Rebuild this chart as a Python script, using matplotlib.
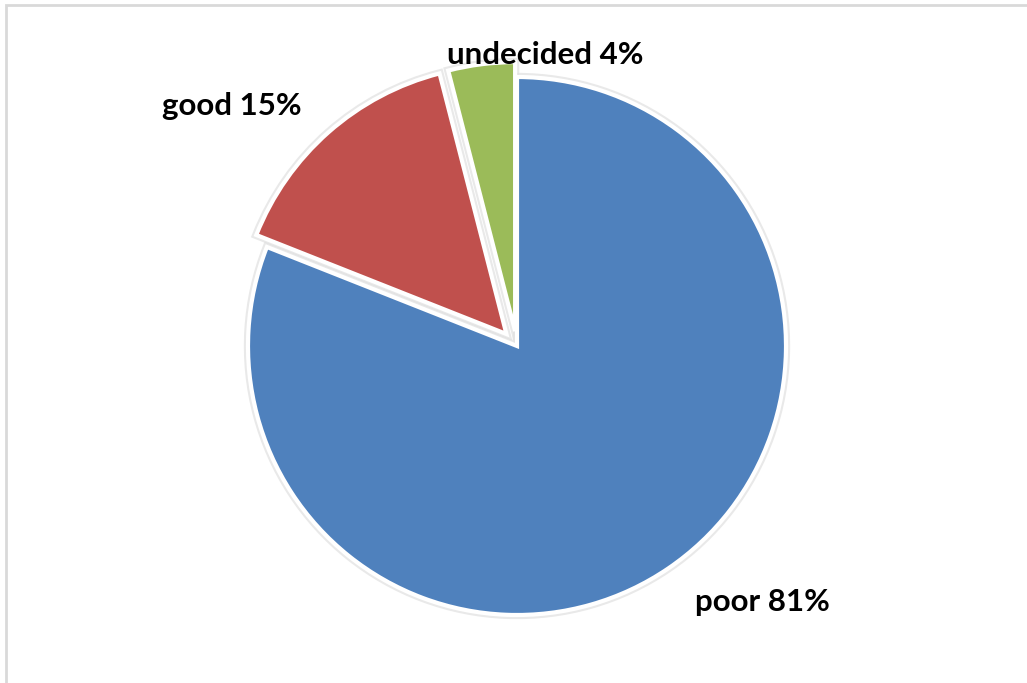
import matplotlib
matplotlib.use('Agg')
import matplotlib.pyplot as plt
from matplotlib.patches import Rectangle

labels = ['poor', 'good', 'undecided']
shares = [81, 15, 4]
colors = ['#4F81BD', '#C0504D', '#9BBB59']
explode = [0, 16, 15]  # pixels pulled out

fig = plt.figure(figsize=(10.27, 6.83), dpi=100)
ax = fig.add_axes([0, 0, 1, 1])
ax.set_xlim(0, 1027)
ax.set_ylim(0, 683)
ax.axis('off')

# outer frame of the chart area
fig.patches.append(Rectangle((6 / 1027, -0.1), 1.2, (683 - 5.5) / 683 + 0.1,
                             transform=fig.transFigure, fill=False,
                             edgecolor='#d9d9d9', linewidth=2))

center = (517, 683 - 346)
radius = 269

# soft gray halo under the white slice borders
ax.pie(shares, colors=colors, explode=explode, startangle=90, counterclock=False,
       center=center, radius=radius,
       wedgeprops=dict(edgecolor='#e0e0e0', linewidth=6, alpha=0.7))
ax.pie(shares, colors=colors, explode=explode, startangle=90, counterclock=False,
       center=center, radius=radius,
       wedgeprops=dict(edgecolor='white', linewidth=3))
ax.set_xlim(0, 1027)
ax.set_ylim(0, 683)

font = dict(fontsize=22.5, fontweight='bold', family=['Lato', 'DejaVu Sans'],
            color='black', ha='center', va='center')
pos = {'poor': (762, 683 - 602), 'good': (232, 683 - 106), 'undecided': (545, 683 - 55)}
for lab, s in zip(labels, shares):
    ax.text(*pos[lab], f'{lab} {s}%', **font)

fig.savefig('out.png', dpi=100)
